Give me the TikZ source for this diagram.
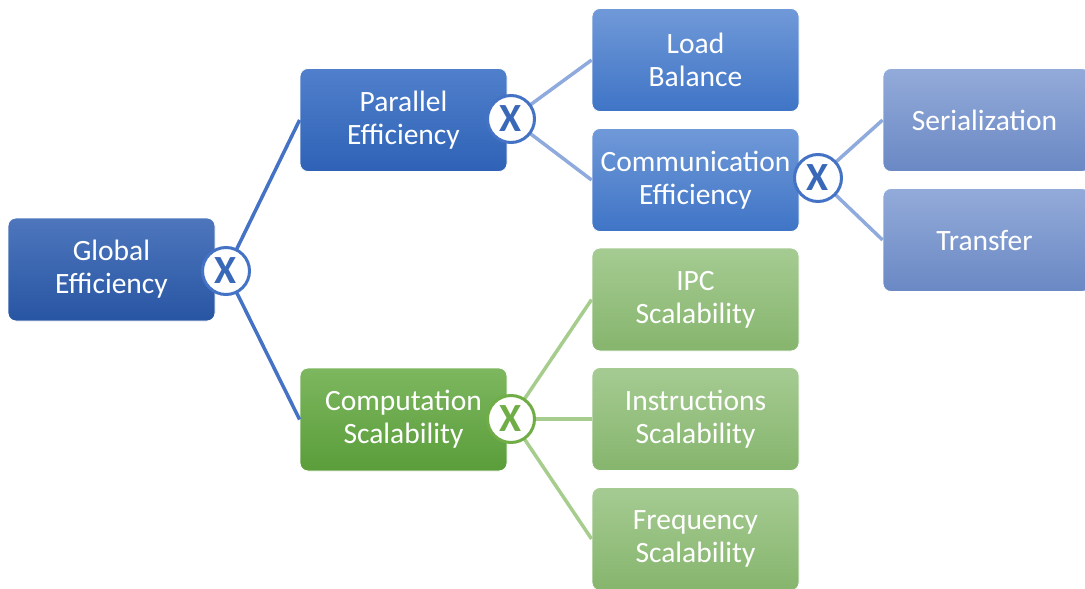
\documentclass[tikz,border=0pt]{standalone}
\usepackage{fontspec}
\setmainfont{Carlito}
\definecolor{gtop}{HTML}{4D76BC}
\definecolor{gbot}{HTML}{2855A3}
\definecolor{ptop}{HTML}{5080CC}
\definecolor{pbot}{HTML}{2F62B6}
\definecolor{ltop}{HTML}{7099D8}
\definecolor{lbot}{HTML}{3F74C6}
\definecolor{stop}{HTML}{93ABD9}
\definecolor{sbot}{HTML}{6A88C4}
\definecolor{ctop}{HTML}{7DB75F}
\definecolor{cbot}{HTML}{5A9D3A}
\definecolor{ftop}{HTML}{A5CB92}
\definecolor{fbot}{HTML}{86B56D}
\definecolor{darkline}{HTML}{4472C4}
\definecolor{lightline}{HTML}{8FAADC}
\definecolor{greenline}{HTML}{A6CD8D}
\definecolor{xblue}{HTML}{3A68B8}
\definecolor{xgreen}{HTML}{70AD47}
\tikzset{
  box/.style={rounded corners=8pt, minimum width=207pt, minimum height=103pt, inner sep=0pt,
    align=center, text=white, font=\fontsize{29.5}{33}\selectfont, draw=white, line width=0.8pt},
  gbox/.style={box, top color=gtop, bottom color=gbot},
  pbox/.style={box, top color=ptop, bottom color=pbot},
  lbox/.style={box, top color=ltop, bottom color=lbot},
  sbox/.style={box, top color=stop, bottom color=sbot},
  cbox/.style={box, top color=ctop, bottom color=cbot},
  fbox/.style={box, top color=ftop, bottom color=fbot},
  xc/.style={circle, fill=white, line width=3pt, minimum size=47pt, inner sep=0pt,
    font=\fontsize{40}{40}\selectfont\bfseries},
  ln/.style={line width=3.5pt}
}
\begin{document}
\begin{tikzpicture}[x=1pt,y=-1pt]
\useasboundingbox (0,0) rectangle (1085,589);
\clip (0,0) rectangle (1085,589);
% circle centres
\coordinate (cg) at (226,271);
\coordinate (cp) at (511,119);
\coordinate (cm) at (818,178);
\coordinate (cc) at (511,419);
% boxes
\node[gbox] (global) at (111.5,269.5) {Global\\Efficiency};
\node[pbox] (par) at (403.5,120) {Parallel\\Efficiency};
\node[cbox] (comp) at (403.5,419.5) {Computation\\Scalability};
\node[lbox] (load) at (695.5,60) {Load\\Balance};
\node[lbox] (comm) at (695.5,180) {Communication\\Efficiency};
\node[fbox] (ipc) at (695.5,299.5) {IPC\\Scalability};
\node[fbox] (instr) at (695.5,419) {Instructions\\Scalability};
\node[fbox] (freq) at (695.5,539) {Frequency\\Scalability};
\node[sbox] (ser) at (986.5,120) {\hspace*{-4pt}Serialization};
\node[sbox] (tra) at (986.5,240) {\hspace*{-4pt}Transfer};
% connectors
\draw[ln, darkline] (cg) -- (par.west);
\draw[ln, darkline] (cg) -- (comp.west);
\draw[ln, lightline] (cp) -- (load.west);
\draw[ln, lightline] (cp) -- (comm.west);
\draw[ln, lightline] (cm) -- (ser.west);
\draw[ln, lightline] (cm) -- (tra.west);
\draw[ln, greenline] (cc) -- (ipc.west);
\draw[ln, greenline] (cc) -- (instr.west);
\draw[ln, greenline] (cc) -- (freq.west);
% circles
\node[xc, draw=darkline, text=xblue] (xg) at (cg) {X};
\node[xc, draw=darkline, text=xblue] (xp) at (cp) {X};
\node[xc, draw=darkline, text=xblue] (xm) at (cm) {X};
\node[xc, draw=xgreen, text=xgreen] (xcc) at (cc) {X};
\end{tikzpicture}
\end{document}
